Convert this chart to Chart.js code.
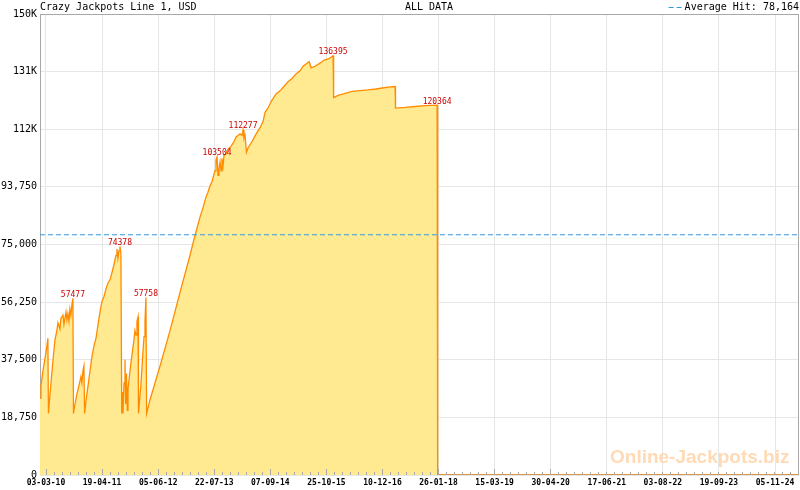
<!DOCTYPE html>
<html>
<head>
<meta charset="utf-8">
<script src="https://cdn.jsdelivr.net/npm/chart.js@4.4.1/dist/chart.umd.min.js"></script>
<style>
  html, body { margin: 0; padding: 0; background: #fff; }
  canvas { display: block; }
</style>
</head>
<body>
<canvas id="chart" width="800" height="490"></canvas>
<script>
// header texts
const title = 'Crazy Jackpots Line 1, USD'
const subtitle = 'ALL DATA'
const avgHit = 78164

// jackpot history (date, amount in USD)
const dates = [
  '2010-01-18', '2010-01-25', '2010-02-09', '2010-02-24', '2010-03-10', '2010-03-17', '2010-03-21', '2010-03-28',
  '2010-04-09', '2010-04-23', '2010-05-08', '2010-05-22', '2010-05-30', '2010-06-14', '2010-06-21', '2010-07-06',
  '2010-07-13', '2010-07-28', '2010-08-04', '2010-08-11', '2010-08-19', '2010-08-26', '2010-09-02', '2010-09-10',
  '2010-09-17', '2010-09-21', '2010-10-02', '2010-10-17', '2010-10-31', '2010-11-15', '2010-11-22', '2010-11-30',
  '2010-12-07', '2010-12-12', '2010-12-22', '2011-01-06', '2011-01-21', '2011-02-04', '2011-02-19', '2011-03-06',
  '2011-03-21', '2011-04-04', '2011-04-19', '2011-05-03', '2011-05-18', '2011-06-02', '2011-06-17', '2011-07-02',
  '2011-07-16', '2011-07-31', '2011-08-07', '2011-08-14', '2011-08-22', '2011-08-29', '2011-09-05', '2011-09-11',
  '2011-09-16', '2011-09-20', '2011-09-28', '2011-10-05', '2011-10-10', '2011-10-16', '2011-10-22', '2011-10-27',
  '2011-11-11', '2011-11-25', '2011-12-10', '2011-12-17', '2011-12-25', '2012-01-01', '2012-01-09', '2012-01-12',
  '2012-01-20', '2012-01-31', '2012-02-14', '2012-02-22', '2012-02-29', '2012-03-07', '2012-03-12', '2012-04-06',
  '2012-06-19', '2012-08-31', '2012-11-13', '2013-01-25', '2013-03-03', '2013-04-09', '2013-05-01', '2013-05-23',
  '2013-06-06', '2013-06-21', '2013-07-06', '2013-07-21', '2013-07-28', '2013-08-04', '2013-08-12', '2013-08-19',
  '2013-08-26', '2013-09-03', '2013-09-10', '2013-09-17', '2013-09-25', '2013-10-02', '2013-10-17', '2013-11-01',
  '2013-11-23', '2013-12-15', '2013-12-30', '2014-01-13', '2014-01-28', '2014-02-12', '2014-02-19', '2014-02-26',
  '2014-03-06', '2014-03-16', '2014-03-28', '2014-04-26', '2014-05-26', '2014-06-24', '2014-07-16', '2014-07-31',
  '2014-08-22', '2014-09-20', '2014-10-20', '2014-11-18', '2014-12-18', '2015-01-16', '2015-02-14', '2015-03-16',
  '2015-04-14', '2015-05-06', '2015-06-05', '2015-06-20', '2015-07-04', '2015-08-03', '2015-09-08', '2015-10-08',
  '2015-11-14', '2015-12-13', '2015-12-17', '2016-01-19', '2016-03-11', '2016-05-01', '2016-06-29', '2016-08-27',
  '2016-10-24', '2016-12-22', '2017-02-04', '2017-03-13', '2017-03-16', '2017-05-26', '2017-08-07', '2017-10-20',
  '2018-01-16', '2018-01-20', '2025-04-30'
]
const values = [
  25000, 29000, 34000, 38000, 42000, 44500, 20000, 24000,
  30000, 37000, 44000, 47000, 49500, 47500, 51000, 52000,
  49000, 53000, 50500, 52500, 50000, 54000, 52000, 55500,
  57477, 20000, 23000, 26500, 29000, 32000, 30000, 34000,
  35500, 20000, 24000, 29000, 34000, 38500, 42000, 44500,
  49000, 53000, 56500, 58000, 60500, 62500, 63500, 66000,
  68500, 71500, 73500, 70500, 73000, 74378, 72000, 20000,
  27000, 20000, 30000, 37500, 23000, 33000, 21000, 28000,
  34000, 39000, 44000, 47000, 45500, 50000, 51500, 20000,
  24000, 30000, 40000, 45000, 50000, 57758, 20000, 24500,
  35500, 47000, 59500, 71500, 78000, 84000, 87000, 90500,
  92000, 94000, 95500, 98000, 99000, 102500, 103504, 97500,
  99500, 102000, 99000, 103000, 100500, 104000, 104500, 106000,
  107000, 108500, 110000, 110500, 111000, 110500, 112277, 109500,
  110500, 105000, 106500, 108500, 111000, 113000, 115000, 118000,
  119500, 122000, 124000, 125000, 126500, 128000, 129000, 130500,
  131500, 133000, 134000, 134500, 132500, 133000, 134000, 135000,
  135500, 136395, 122800, 123500, 124200, 124800, 125100, 125300,
  125600, 126000, 126300, 126400, 119400, 119600, 119900, 120200,
  120364, 0, 0
]

// labelled peaks
const peakDates = ['2010-09-17', '2011-08-29', '2012-03-07', '2013-08-12', '2014-02-19', '2015-12-13', '2018-01-16']
const peakValues = [57477, 74378, 57758, 103504, 112277, 136395, 120364]

// axes
const tickLabels = ['03-03-10', '19-04-11', '05-06-12', '22-07-13', '07-09-14', '25-10-15', '10-12-16',
  '26-01-18', '15-03-19', '30-04-20', '17-06-21', '03-08-22', '19-09-23', '05-11-24']
const xStart = '2010-01-18'
const xEnd = '2025-04-30'
const yMax = 150000
const yStep = 18750

const day = s => Date.parse(s)
const tickDay = s => { const p = s.split('-'); return Date.parse('20' + p[2] + '-' + p[1] + '-' + p[0]) }
const tickValues = tickLabels.map(tickDay)

const mono = 'DejaVu Sans Mono'
Chart.defaults.font.family = mono

const decorations = {
  id: 'decorations',
  beforeDraw(chart) {
    const ctx = chart.ctx
    ctx.save()
    ctx.fillStyle = '#fff'
    ctx.fillRect(0, 0, chart.width, chart.height)
    ctx.restore()
  },
  beforeDatasetsDraw(chart) {
    const ctx = chart.ctx
    const a = chart.chartArea
    ctx.save()
    ctx.strokeStyle = '#a8a8a8'
    ctx.lineWidth = 1
    ctx.strokeRect(a.left + 0.5, a.top + 0.5, a.right - a.left - 1, a.bottom - a.top - 1)
    ctx.font = 'bold 19px "Liberation Sans"'
    ctx.fillStyle = '#ffdab4'
    ctx.textAlign = 'left'
    ctx.textBaseline = 'alphabetic'
    ctx.fillText('Online-Jackpots.biz', 610, 463)
    ctx.restore()
  },
  afterDatasetsDraw(chart) {
    const ctx = chart.ctx
    const a = chart.chartArea
    const xs = chart.scales.x
    const ys = chart.scales.y
    ctx.save()
    // major and minor ticks along the bottom, pointing up
    const px = tickValues.map(v => xs.getPixelForValue(v))
    const step = (px[1] - px[0]) / 7
    ctx.strokeStyle = '#a8a8a8'
    ctx.lineWidth = 1
    ctx.beginPath()
    let start = px[0]
    while (start - step > a.left) start -= step
    for (let p = start; p <= a.right; p += step) {
      const major = px.some(m => Math.abs(m - p) < 0.5)
      const x = Math.round(p) + 0.5
      ctx.moveTo(x, a.bottom)
      ctx.lineTo(x, a.bottom - (major ? 6 : 3))
    }
    ctx.stroke()
    // peak labels
    ctx.font = '8px ' + mono
    ctx.fillStyle = '#cc0000'
    ctx.textAlign = 'center'
    ctx.textBaseline = 'alphabetic'
    peakDates.forEach((d, i) => {
      const x = xs.getPixelForValue(day(d))
      const y = ys.getPixelForValue(peakValues[i])
      ctx.fillText(String(peakValues[i]), x, y - 1.5)
    })
    ctx.restore()
  },
  afterDraw(chart) {
    const ctx = chart.ctx
    ctx.save()
    ctx.font = '10px ' + mono
    ctx.fillStyle = '#000'
    ctx.textBaseline = 'alphabetic'
    ctx.textAlign = 'left'
    ctx.fillText(title, 40, 10)
    ctx.textAlign = 'center'
    ctx.fillText(subtitle, 429, 10)
    ctx.textAlign = 'right'
    const legendText = 'Average Hit: ' + avgHit.toLocaleString('en-US')
    ctx.fillText(legendText, 799, 10)
    const w = ctx.measureText(legendText).width
    ctx.strokeStyle = '#3399dd'
    ctx.lineWidth = 1
    ctx.setLineDash([5, 3])
    ctx.beginPath()
    ctx.moveTo(799 - w - 16, 7.5)
    ctx.lineTo(799 - w - 3, 7.5)
    ctx.stroke()
    ctx.restore()
  }
}

new Chart(document.getElementById('chart').getContext('2d'), {
  type: 'line',
  data: {
    datasets: [
      {
        label: 'Average Hit',
        data: [{ x: day(xStart), y: avgHit }, { x: day(xEnd), y: avgHit }],
        borderColor: '#3399dd',
        borderWidth: 1,
        borderDash: [5, 3],
        pointRadius: 0,
        fill: false
      },
      {
        label: title,
        data: dates.map((d, i) => ({ x: day(d), y: values[i] })),
        borderColor: '#ff8c00',
        backgroundColor: '#ffea92',
        borderWidth: 1.3,
        pointRadius: 0,
        tension: 0,
        fill: 'origin'
      }
    ]
  },
  options: {
    responsive: false,
    animation: false,
    layout: { padding: { top: 14, right: 1, left: 0, bottom: 0 } },
    plugins: { legend: { display: false }, tooltip: { enabled: false } },
    scales: {
      x: {
        type: 'linear',
        min: day(xStart),
        max: day(xEnd),
        afterBuildTicks: scale => { scale.ticks = tickValues.map(v => ({ value: v })) },
        afterFit: scale => { scale.height = 15 },
        grid: { color: '#e6e6e6', drawTicks: false },
        border: { display: false },
        ticks: {
          autoSkip: false,
          maxRotation: 0,
          padding: 3,
          color: '#000',
          font: { family: mono, size: 8, weight: 'bold' },
          callback: (v, i) => tickLabels[i]
        }
      },
      y: {
        min: 0,
        max: yMax,
        afterFit: scale => { scale.width = 40 },
        grid: { color: '#e6e6e6', drawTicks: false },
        border: { display: false },
        ticks: {
          stepSize: yStep,
          padding: 3,
          color: '#000',
          font: { family: mono, size: 10 },
          callback: v => v >= 100000 ? Math.floor(v / 1000) + 'K' : v.toLocaleString('en-US')
        }
      }
    }
  },
  plugins: [decorations]
})
</script>
</body>
</html>
